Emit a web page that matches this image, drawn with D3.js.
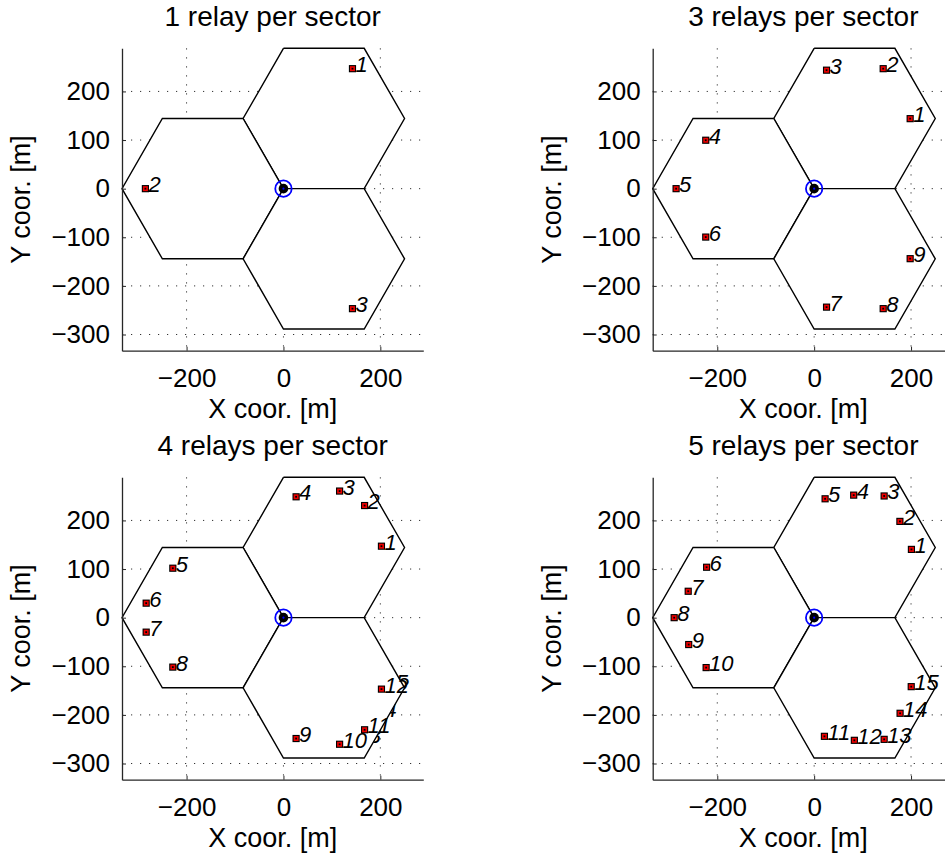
<!DOCTYPE html>
<html><head><meta charset="utf-8">
<script src="https://cdn.jsdelivr.net/npm/d3@7"></script>
<style>
body{margin:0;background:#fff}
svg{display:block}
text{font-family:"Liberation Sans",Arial,Helvetica,sans-serif}
</style>
</head><body>
<svg id="chart" width="945" height="857"></svg>
<script>
// ---------------- data ----------------
const panelTitles = ["1 relay per sector", "3 relays per sector", "4 relays per sector", "5 relays per sector"];

const relays1X = [142.5, -285.0, 142.5];
const relays1Y = [246.8, 0.0, -246.8];

const relays3X = [198.2, 142.5, 25.6, -223.8, -285.0, -223.8, 25.6, 142.5, 198.2];
const relays3Y = [144.0, 246.8, 243.7, 99.6, 0.0, -99.6, -243.7, -246.8, -144.0];

const relays4X = [202.3, 167.5, 115.9, 26.1, -228.4, -283.4, -283.4, -228.4, 26.1, 115.9, 167.5, 202.3];
const relays4Y = [147.0, 230.6, 260.4, 248.6, 101.7, 29.8, -29.8, -101.7, -248.6, -260.4, -230.6, -147.0];

const relays5X = [200.8, 177.0, 144.5, 81.6, 22.6, -222.0, -260.0, -289.0, -259.0, -223.0, 21.2, 83.0, 144.5, 177.4, 200.4];
const relays5Y = [140.4, 198.0, 250.3, 252.0, 244.5, 103.7, 54.3, 0.0, -55.3, -102.7, -244.1, -252.3, -250.3, -196.7, -141.9];

// leftover labels partly hidden under the cells of the 4-relay panel
const ghostLabels = ["13", "14", "15"];
const ghostX = [144.5, 177.4, 200.4];
const ghostY = [-250.3, -196.7, -141.9];

// hexagonal cells (vertices, metres)
const hexTopX = [0, 166.7, 250, 166.7, 0, -83.3];
const hexTopY = [288.7, 288.7, 144.3, 0, 0, 144.3];
const hexLeftX = [-83.3, 0, -83.3, -250, -333.3, -250];
const hexLeftY = [144.3, 0, -144.3, -144.3, 0, 144.3];
const hexBottomX = [0, 166.7, 250, 166.7, 0, -83.3];
const hexBottomY = [0, 0, -144.3, -288.7, -288.7, -144.3];

const baseStationX = [0];
const baseStationY = [0];

const xTickValues = [-200, 0, 200];
const yTickValues = [-300, -200, -100, 0, 100, 200];
const axisLimits = [-333.3, 288.7];
const xAxisLabel = "X coor. [m]";
const yAxisLabel = "Y coor. [m]";

// ---------------- drawing ----------------
const svg = d3.select("#chart");
const W = 301.3, H = 302.4;
const panels = [
  {title: panelTitles[0], xs: relays1X, ys: relays1Y, left: 122, top: 48.3, ghost: false},
  {title: panelTitles[1], xs: relays3X, ys: relays3Y, left: 652.7, top: 48.3, ghost: false},
  {title: panelTitles[2], xs: relays4X, ys: relays4Y, left: 122, top: 477.3, ghost: true},
  {title: panelTitles[3], xs: relays5X, ys: relays5Y, left: 652.7, top: 477.3, ghost: false}
];
const hexes = [[hexTopX, hexTopY], [hexLeftX, hexLeftY], [hexBottomX, hexBottomY]];
const fmt = d => (d < 0 ? "\u2212" + Math.abs(d) : String(d));
const LABEL_SIZE = 22;

panels.forEach(p => {
  const g = svg.append("g").attr("transform", `translate(${p.left},${p.top})`);
  const x = d3.scaleLinear().domain(axisLimits).range([0, W]);
  const y = d3.scaleLinear().domain(axisLimits).range([H, 0]);

  // grid
  const grid = g.append("g").attr("stroke", "#333").attr("stroke-width", 1).attr("stroke-dasharray", "1.2,7.8");
  grid.selectAll("line.gx").data(xTickValues).join("line").attr("class", "gx")
    .attr("x1", d => x(d)).attr("x2", d => x(d)).attr("y1", 0).attr("y2", H);
  grid.selectAll("line.gy").data(yTickValues).join("line").attr("class", "gy")
    .attr("y1", d => y(d)).attr("y2", d => y(d)).attr("x1", 0).attr("x2", W);

  // leftover labels (mostly hidden under the white cells)
  if (p.ghost) {
    g.append("g").selectAll("text").data(ghostLabels).join("text")
      .attr("x", (d, i) => x(ghostX[i]) + 3)
      .attr("y", (d, i) => y(ghostY[i]) + 3.5)
      .attr("font-size", LABEL_SIZE).attr("font-style", "italic").attr("fill", "#000")
      .text(d => d);
  }

  // cells
  const line = d3.line().x(d => x(d[0])).y(d => y(d[1]));
  hexes.forEach(([hx, hy]) => {
    const pts = hx.map((v, i) => [v, hy[i]]);
    pts.push(pts[0]);
    g.append("path").attr("d", line(pts)).attr("fill", "#fff")
      .attr("stroke", "#000").attr("stroke-width", 1.4).attr("stroke-linejoin", "miter");
  });

  // axes
  const ax = g.append("g").attr("transform", `translate(0,${H})`)
    .call(d3.axisBottom(x).tickValues(xTickValues).tickFormat(fmt).tickSizeInner(-4).tickSizeOuter(0).tickPadding(18));
  const ay = g.append("g")
    .call(d3.axisLeft(y).tickValues(yTickValues).tickFormat(fmt).tickSizeInner(-4).tickSizeOuter(0).tickPadding(12));
  [ax, ay].forEach(a => {
    a.attr("font-size", 26).attr("font-family", null);
    a.selectAll("text").attr("fill", "#000");
    a.select(".domain").attr("stroke", "#262626").attr("stroke-width", 1.3);
    a.selectAll(".tick line").attr("stroke", "#262626").attr("stroke-width", 1);
  });

  // base station
  const bs = g.append("g");
  bs.selectAll("circle.bsk").data(baseStationX).join("circle").attr("class", "bsk")
    .attr("cx", d => x(d)).attr("cy", (d, i) => y(baseStationY[i])).attr("r", 4.8).attr("fill", "#000");
  bs.selectAll("circle.bsb").data(baseStationX).join("circle").attr("class", "bsb")
    .attr("cx", d => x(d)).attr("cy", (d, i) => y(baseStationY[i])).attr("r", 8.2)
    .attr("fill", "none").attr("stroke", "#0000ff").attr("stroke-width", 1.8);
  bs.selectAll("circle.bsd").data(baseStationX).join("circle").attr("class", "bsd")
    .attr("cx", d => x(d)).attr("cy", (d, i) => y(baseStationY[i])).attr("r", 1.1).attr("fill", "#0000ff");

  // relays
  const rel = g.append("g");
  p.xs.forEach((v, i) => {
    const cx = x(v), cy = y(p.ys[i]);
    rel.append("rect").attr("x", cx - 3.6).attr("y", cy - 3.6).attr("width", 7.2).attr("height", 7.2).attr("fill", "#000");
    rel.append("rect").attr("x", cx - 2.5).attr("y", cy - 2.5).attr("width", 5).attr("height", 5).attr("fill", "#ee0000");
    rel.append("rect").attr("x", cx - 0.9).attr("y", cy - 0.9).attr("width", 1.8).attr("height", 1.8).attr("fill", "#000");
  });
  rel.selectAll("text").data(p.xs).join("text")
    .attr("x", d => x(d) + 3)
    .attr("y", (d, i) => y(p.ys[i]) + 3.5)
    .attr("font-size", LABEL_SIZE).attr("font-style", "italic").attr("fill", "#000")
    .text((d, i) => i + 1);

  // titles and axis labels
  g.append("text").attr("x", W / 2).attr("y", -22).attr("text-anchor", "middle")
    .attr("font-size", 28).attr("fill", "#000").text(p.title);
  g.append("text").attr("x", W / 2).attr("y", H + 67.5).attr("text-anchor", "middle")
    .attr("font-size", 27).attr("fill", "#000").text(xAxisLabel);
  g.append("text").attr("transform", `translate(-92,${H / 2}) rotate(-90)`).attr("text-anchor", "middle")
    .attr("font-size", 27).attr("fill", "#000").text(yAxisLabel);
});
</script>
</body></html>
